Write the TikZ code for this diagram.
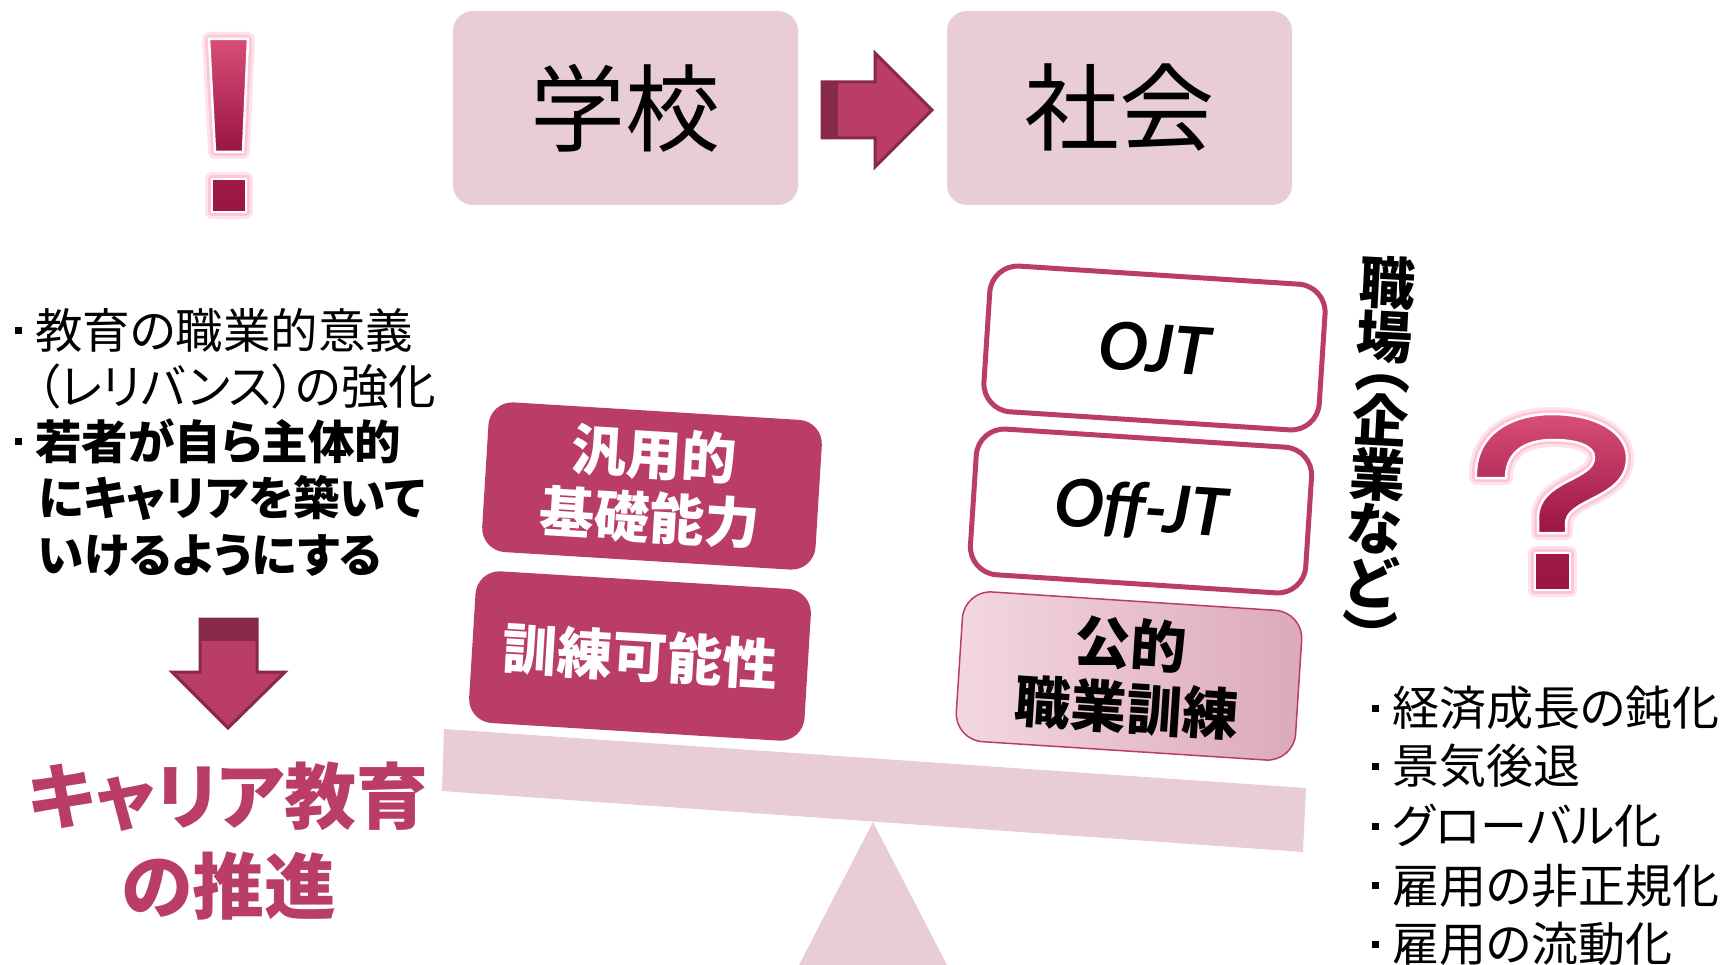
\documentclass[tikz,border=0pt]{standalone}
\usepackage{fontspec}
\newfontfamily\jp{Noto Sans CJK JP}[RawFeature=+palt]
\newfontfamily\jpf{Noto Sans CJK JP}
\newfontfamily\lat{Lato}
\definecolor{dpink}{HTML}{BA3D68}
\definecolor{dpinkd}{HTML}{87294A}
\definecolor{lpink}{HTML}{E8CDD5}
\definecolor{glowc}{HTML}{FFAFC7}
\definecolor{gtop}{HTML}{D84E76}
\definecolor{gbot}{HTML}{9A1444}
\definecolor{pubL}{HTML}{F3D8DF}
\definecolor{pubR}{HTML}{DCA9B8}
\newcommand\sqbul{\makebox[34pt][c]{\raisebox{14pt}{\rule{7pt}{7pt}}}}
\begin{document}
\begin{tikzpicture}[x=1pt,y=-1pt,
  panel/.style={fill=lpink, draw=none, rounded corners=20pt, minimum width=345pt, minimum height=194pt, inner sep=0pt, font=\jpf\fontsize{95}{95}\selectfont},
  leftbox/.style={fill=dpink, rounded corners=24pt, rotate=-3.5, minimum width=334pt, minimum height=150pt, text=white, align=center, inner sep=0pt, font=\jpf\bfseries\fontsize{55}{64}\selectfont},
  rightbox/.style={fill=white, draw=dpink, line width=5pt, rounded corners=28pt, rotate=-3.7, minimum width=336pt, minimum height=146pt, inner sep=0pt},
  txt/.style={anchor=west, inner sep=0pt, font=\jp\fontsize{47.5}{47.5}\selectfont},
  txtb/.style={anchor=west, inner sep=0pt, font=\jp\bfseries\fontsize{46.5}{46.5}\selectfont},
  blockarrow/.style={fill=dpink, draw=dpinkd, line width=3pt, line join=miter},
  glowa/.style={draw=glowc, line width=14pt, opacity=0.35, line join=round},
  glowb/.style={draw=glowc, line width=8pt, opacity=0.6, line join=round},
  markfill/.style={top color=gtop, bottom color=gbot, draw=white, line width=2.5pt},
  dotfill/.style={top color=gbot!90!gtop, bottom color=gbot, draw=white, line width=2.5pt},
  hint/.style={anchor=west, inner sep=0pt, font=\jp\fontsize{47}{47}\selectfont}
]
\useasboundingbox (0,0) rectangle (1731,965);

% ---- top: school -> society
\node[panel] (school) at (625.5,108) {学校};
\node[panel] (society) at (1119.5,108) {社会};
\draw[blockarrow] (822,82) -- (875,82) -- (875,53) -- (932,110) -- (875,167) -- (875,138) -- (822,138) -- cycle;
\fill[dpinkd] (822,82) rectangle (838,138);

% ---- exclamation mark
\foreach \s in {glowa,glowb}{
  \draw[\s] (209,39) -- (248,39) -- (243,152) -- (215,152) -- cycle;
  \draw[\s] (212,179) rectangle (246,212);
}
\shadedraw[markfill] (209,39) -- (248,39) -- (243,152) -- (215,152) -- cycle;
\shadedraw[dotfill] (212,179) rectangle (246,212);

% ---- left text
\node[txt] (l1) at (1,330) {\sqbul 教育の職業的意義};
\node[txt] (l2) at (36,386) {（レリバンス）の強化};
\node[txtb] (l3) at (1,441) {\sqbul 若者が自ら主体的};
\node[txtb] (l4) at (38,498) {にキャリアを築いて};
\node[txtb] (l5) at (38,555) {いけるようにする};

% ---- down arrow
\draw[blockarrow] (200,619) -- (257,619) -- (257,672) -- (285,672) -- (228,728) -- (172,672) -- (200,672) -- cycle;
\fill[dpinkd] (200,619) rectangle (257,641);

\node[inner sep=0pt, text=dpink, font=\jp\bfseries\fontsize{72}{72}\selectfont] (career) at (228,797) {キャリア教育};
\node[inner sep=0pt, text=dpink, font=\jp\bfseries\fontsize{72}{72}\selectfont] (promo) at (229,886) {の推進};

% ---- seesaw
\fill[lpink] (799,965) -- (873,822) -- (947,965) -- cycle;
\fill[lpink] (444,729) -- (1306,788) -- (1303,852) -- (442,791) -- cycle;

% ---- left boxes
\node[leftbox] (generic) at (652,486) {汎用的\\基礎能力};
\node[leftbox, minimum width=336pt, minimum height=152pt] (trainable) at (640,656) {訓練可能性};

% ---- right boxes
\node[rightbox] (ojt) at (1154.5,348) {\lat\bfseries\itshape\fontsize{66}{66}\selectfont OJT};
\node[rightbox] (offjt) at (1141,511) {\lat\bfseries\itshape\fontsize{66}{66}\selectfont Off-JT};
\node[rightbox, draw=dpink, line width=1.5pt, left color=pubL, right color=pubR, align=center, font=\jpf\bfseries\fontsize{56}{64}\selectfont, minimum width=340pt, minimum height=150pt] (public) at (1129,676) {公的\\職業訓練};

% ---- vertical label
\node[font=\jpf\bfseries\fontsize{56}{54}\selectfont, align=center, rotate=-3, inner sep=0pt, anchor=north] (work) at (1389,256) {職\\場\\[-24pt]︵\\企\\業\\な\\ど\\︶};

% ---- question mark
\foreach \s in {glowa,glowb}{
  \draw[\s] (1476,478) .. controls (1474,435) and (1510,414) .. (1552,414)
    .. controls (1596,414) and (1627,432) .. (1627,458)
    .. controls (1627,480) and (1610,490) .. (1590,500)
    .. controls (1572,509) and (1566,515) .. (1566,524)
    -- (1566,533) -- (1538,533) -- (1538,518)
    .. controls (1538,500) and (1550,490) .. (1570,480)
    .. controls (1588,471) and (1594,466) .. (1594,457)
    .. controls (1594,446) and (1577,440) .. (1553,440)
    .. controls (1525,440) and (1506,452) .. (1506,478) -- cycle;
  \draw[\s] (1535,553) rectangle (1570,590);
}
\shadedraw[markfill] (1476,478) .. controls (1474,435) and (1510,414) .. (1552,414)
    .. controls (1596,414) and (1627,432) .. (1627,458)
    .. controls (1627,480) and (1610,490) .. (1590,500)
    .. controls (1572,509) and (1566,515) .. (1566,524)
    -- (1566,533) -- (1538,533) -- (1538,518)
    .. controls (1538,500) and (1550,490) .. (1570,480)
    .. controls (1588,471) and (1594,466) .. (1594,457)
    .. controls (1594,446) and (1577,440) .. (1553,440)
    .. controls (1525,440) and (1506,452) .. (1506,478) -- cycle;
\shadedraw[dotfill] (1535,553) rectangle (1570,590);

% ---- right list
\node[hint] (r1) at (1358,708) {\sqbul 経済成長の鈍化};
\node[hint] (r2) at (1358,766) {\sqbul 景気後退};
\node[hint] (r3) at (1358,826) {\sqbul グローバル化};
\node[hint] (r4) at (1358,886) {\sqbul 雇用の非正規化};
\node[hint] (r5) at (1358,944) {\sqbul 雇用の流動化};
\end{tikzpicture}
\end{document}
